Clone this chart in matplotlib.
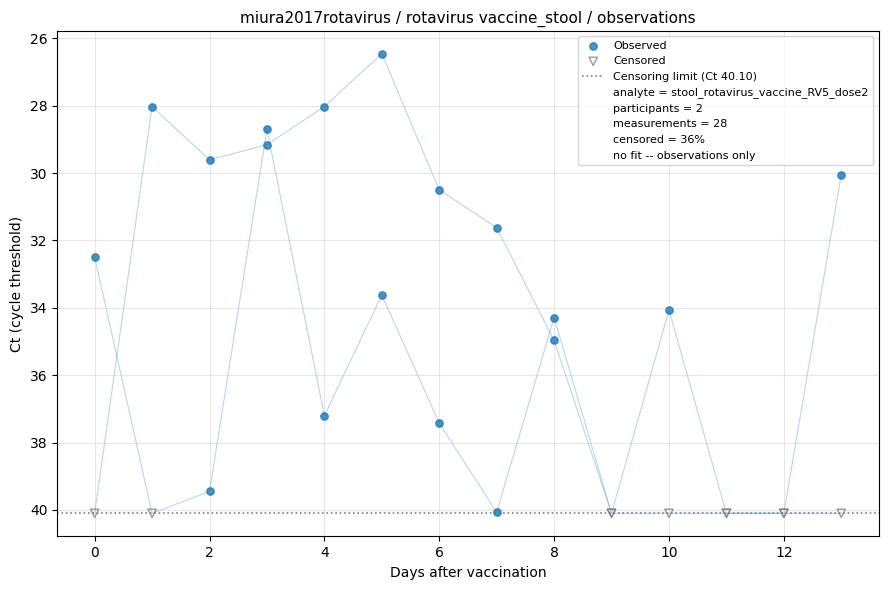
import numpy as np
import matplotlib
matplotlib.use("Agg")
import matplotlib.pyplot as plt

# Data (Ct values, None = censored at limit)
lod = 40.10
days = np.arange(14)
ct_a = [32.5, None, 39.45, 28.7, 37.2, 33.62, 37.42, 40.07, 34.29, None, 34.07, None, None, 30.05]
ct_b = [None, 28.03, 29.61, 29.16, 28.03, 26.46, 30.5, 31.62, 34.97, None, None, None, None, None]
participants = [ct_a, ct_b]

fig, ax = plt.subplots(figsize=(8.89, 5.9), dpi=100)

for ct in participants:
    y = np.array([lod if v is None else v for v in ct], dtype=float)
    ax.plot(days, y, color='#1f77b4', alpha=0.3, linewidth=0.8, zorder=1)

obs_x, obs_y, cen_x, cen_y = [], [], [], []
for ct in participants:
    for d, v in zip(days, ct):
        if v is None:
            cen_x.append(d)
            cen_y.append(lod)
        else:
            obs_x.append(d)
            obs_y.append(v)

ax.scatter(obs_x, obs_y, s=28, color='#1f77b4', alpha=0.8, zorder=3, label='Observed')
ax.scatter(cen_x, cen_y, s=36, marker='v', facecolors='none', edgecolors='gray',
           alpha=0.8, zorder=3, label='Censored')
ax.axhline(lod, color='gray', linestyle=':', linewidth=1.2, label='Censoring limit (Ct 40.10)')

n_meas = sum(len(p) for p in participants)
n_cens = len(cen_x)
extra = ['analyte = stool_rotavirus_vaccine_RV5_dose2',
         'participants = %d' % len(participants),
         'measurements = %d' % n_meas,
         'censored = %d%%' % round(100 * n_cens / n_meas),
         'no fit -- observations only']
for t in extra:
    ax.plot([], [], ' ', label=t)

ax.invert_yaxis()
ax.grid(True, alpha=0.3)
ax.set_xlabel('Days after vaccination')
ax.set_ylabel('Ct (cycle threshold)')
ax.set_title('miura2017rotavirus / rotavirus vaccine_stool / observations', fontsize=11)
ax.legend(loc='upper right', fontsize=8)
fig.tight_layout(pad=0.75)
fig.savefig('out.png')
